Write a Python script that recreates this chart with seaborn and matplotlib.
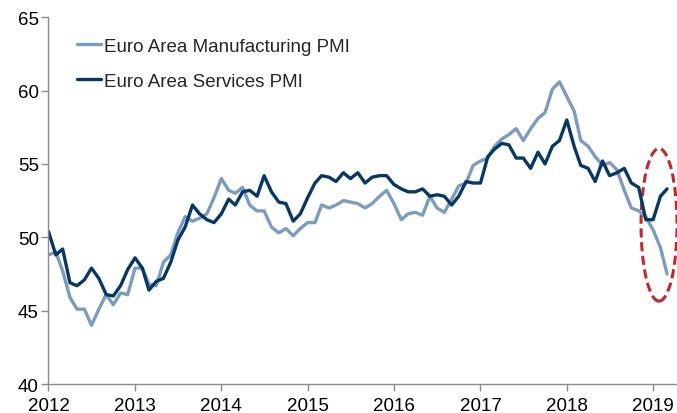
import numpy as np
import pandas as pd
import matplotlib.pyplot as plt
import matplotlib.dates as mdates
from matplotlib.patches import Ellipse
import seaborn as sns

# Monthly PMI readings, Jan 2012 - Mar 2019
months = pd.date_range('2012-01-01', '2019-03-01', freq='MS')

manufacturing = [
    48.8, 49.0, 47.7, 45.9, 45.1, 45.1, 44.0, 45.1, 46.1, 45.4, 46.2, 46.1,
    47.9, 47.9, 46.8, 46.7, 48.3, 48.8, 50.3, 51.4, 51.1, 51.3, 51.6, 52.7,
    54.0, 53.2, 53.0, 53.4, 52.2, 51.8, 51.8, 50.7, 50.3, 50.6, 50.1, 50.6,
    51.0, 51.0, 52.2, 52.0, 52.2, 52.5, 52.4, 52.3, 52.0, 52.3, 52.8, 53.2,
    52.3, 51.2, 51.6, 51.7, 51.5, 52.8, 52.0, 51.7, 52.6, 53.5, 53.7, 54.9,
    55.2, 55.4, 56.2, 56.7, 57.0, 57.4, 56.6, 57.4, 58.1, 58.5, 60.1, 60.6,
    59.6, 58.6, 56.6, 56.2, 55.5, 54.9, 55.1, 54.6, 53.2, 52.0, 51.8, 51.4,
    50.5, 49.3, 47.5,
]

services = [
    50.4, 48.8, 49.2, 46.9, 46.7, 47.1, 47.9, 47.2, 46.1, 46.0, 46.7, 47.8,
    48.6, 47.9, 46.4, 47.0, 47.2, 48.3, 49.8, 50.7, 52.2, 51.6, 51.2, 51.0,
    51.6, 52.6, 52.2, 53.1, 53.2, 52.8, 54.2, 53.1, 52.4, 52.3, 51.1, 51.6,
    52.7, 53.7, 54.2, 54.1, 53.8, 54.4, 54.0, 54.4, 53.7, 54.1, 54.2, 54.2,
    53.6, 53.3, 53.1, 53.1, 53.3, 52.8, 52.9, 52.8, 52.2, 52.8, 53.8, 53.7,
    53.7, 55.5, 56.0, 56.4, 56.3, 55.4, 55.4, 54.7, 55.8, 55.0, 56.2, 56.6,
    58.0, 56.2, 54.9, 54.7, 53.8, 55.2, 54.2, 54.4, 54.7, 53.7, 53.4, 51.2,
    51.2, 52.8, 53.3,
]

series_names = ['Euro Area Manufacturing PMI', 'Euro Area Services PMI']
series_colors = ['#7b9bc1', '#073763']
year_ticks = list(range(2012, 2020))


def build_frame():
    df = pd.DataFrame({
        'Date': list(months) * 2,
        'PMI': manufacturing + services,
        'Series': [series_names[0]] * len(months) + [series_names[1]] * len(months),
    })
    return df


def main():
    sns.set_theme(style='white')
    plt.rcParams['font.family'] = ['Liberation Sans', 'DejaVu Sans']

    df = build_frame()

    fig = plt.figure(figsize=(6.77, 4.14), dpi=100)
    ax = fig.add_axes([0.0716, 0.070, 0.9284, 0.886])

    sns.lineplot(data=df, x='Date', y='PMI', hue='Series',
                 palette=dict(zip(series_names, series_colors)),
                 linewidth=2.4, ax=ax)

    # Highlight the latest divergence
    centre = mdates.date2num(pd.Timestamp('2019-01-26'))
    ax.add_patch(Ellipse((centre, 50.85), width=152, height=10.4,
                         fill=False, edgecolor='#c0282d', linestyle=(0, (3, 1.5)),
                         linewidth=2.2))

    ax.set_ylim(40, 65)
    ax.set_yticks([40, 45, 50, 55, 60, 65])
    ax.set_xlim(mdates.date2num(pd.Timestamp('2012-01-01')),
                mdates.date2num(pd.Timestamp('2019-04-12')))
    ax.set_xticks([mdates.date2num(pd.Timestamp(f'{y}-01-01')) for y in year_ticks])
    ax.set_xticklabels([str(y) for y in year_ticks])
    ax.set_xlabel('')
    ax.set_ylabel('')

    for side in ['top', 'right']:
        ax.spines[side].set_visible(False)
    for side in ['left', 'bottom']:
        ax.spines[side].set_color('#8c8c8c')
        ax.spines[side].set_linewidth(1.0)
    ax.tick_params(axis='both', which='major', labelsize=13.5, colors='#8c8c8c',
                   labelcolor='black', length=5, width=1.0, direction='out',
                   left=True, bottom=True, pad=2)
    ax.tick_params(axis='x', pad=4)

    handles, labels = ax.get_legend_handles_labels()
    ax.legend(handles, labels, loc='upper left', bbox_to_anchor=(0.019, 0.99),
              frameon=False, fontsize=13.5, handlelength=1.25, handletextpad=0.15,
              labelspacing=0.95)

    fig.savefig('out.png', dpi=100)
    plt.close(fig)


if __name__ == '__main__':
    main()
